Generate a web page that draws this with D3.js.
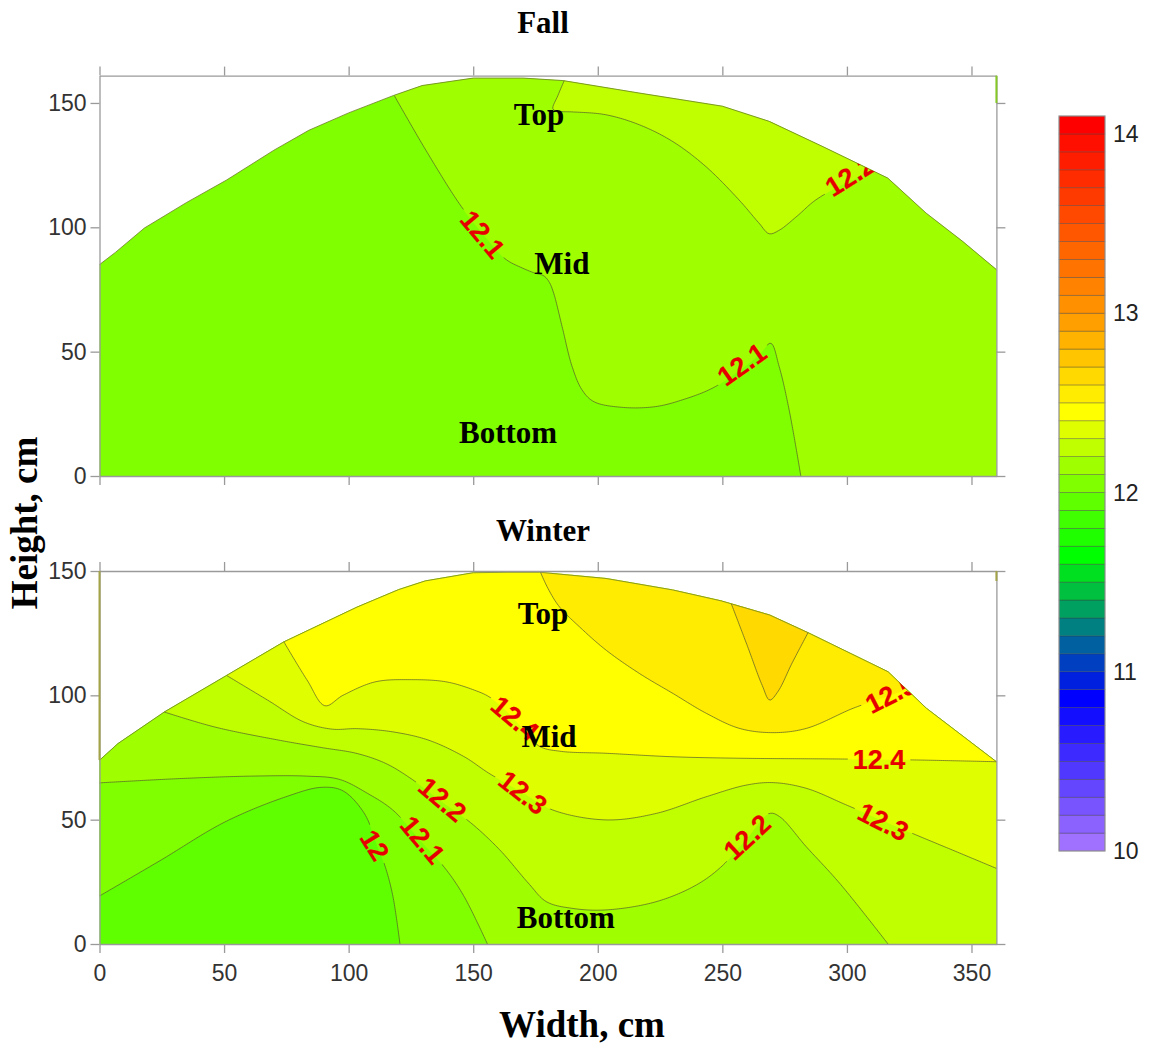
<!DOCTYPE html>
<html><head><meta charset="utf-8">
<script src="https://cdn.jsdelivr.net/npm/d3@7"></script>
<style>body{margin:0;background:#fff}svg{display:block}</style>
</head><body>
<svg id="chart" width="1149" height="1048"></svg>
<script>
// ---------------- DATA ----------------
const xTicks = [0, 50, 100, 150, 200, 250, 300, 350];
const yTicks = [0, 50, 100, 150];
const barTicks = [10, 11, 12, 13, 14];
const barLevels = [10.0,10.1,10.2,10.3,10.4,10.5,10.6,10.7,10.8,10.9,11.0,11.1,11.2,11.3,11.4,11.5,11.6,11.7,11.8,11.9,
  12.0,12.1,12.2,12.3,12.4,12.5,12.6,12.7,12.8,12.9,13.0,13.1,13.2,13.3,13.4,13.5,13.6,13.7,13.8,13.9,14.0];
const colorStops = [10.1, 10.9, 11.3, 11.7, 12.5, 13.0, 14.1];
const colorHex = ["#a070ff", "#0000ff", "#008080", "#00ff00", "#ffff00", "#ffa000", "#ff0000"];

// Fall panel: domain top boundary (width, height)
const fallBoundary = [[0,85],[6.5,90],[18,99.7],[35,110],[51,119],[70,131],[84,139],[100,146],[118,153],[129.5,157],
  [150,160],[170,160],[186,159],[216.5,154],[250,148.7],[268.8,142.6],[290,132.6],[316.4,119.8],[331.8,105.7],[346.5,94.3],[360,83]];
const fallC121 = [[118.3,153],[131,131],[145.2,108.4],[155,96],[163,87.2],[170,83.5],[174.7,81.6],[178.3,80.5],[180.5,78],
  [182.3,73.5],[185.7,60],[189.7,44],[193.7,34.6],[198.4,29.9],[209.8,27.6],[223.2,27.9],[233.9,30.6],[246,35.3],[257,42.5],
  [265,49],[269.4,53.4],[272.8,44],[276.8,26.6],[281.5,0]];
const fallC122 = [[186.5,158.9],[184,153],[182,147.5],[185,146.6],[189.7,146.4],[203,145.3],[216.5,141.3],[229.9,134.6],
  [243.3,124.5],[256.7,111],[264.7,101.7],[268.8,97.4],[272.8,98.8],[280,104.5],[287.5,111],[300,118],[311,122.4]];
const fallBase = 12.0;
const fallLevels = [12.1, 12.2];
const fallLabels = [
  {t:"12.1", x:153.9, y:97.3, a:50},
  {t:"12.1", x:257.8, y:45.0, a:-35},
  {t:"12.2", x:301.2, y:120.8, a:-32}
];
const fallNames = [{t:"Top", x:176.4, y:145.2}, {t:"Mid", x:185.6, y:85.2}, {t:"Bottom", x:164, y:17.3}];

// Winter panel
const winterBoundary = [[0,73.9],[7.4,80.6],[26,93.3],[51,108],[74,121.5],[103.4,135.5],[120,142.5],[130.7,146],[150,149.3],
  [163.6,149.5],[176.6,149.5],[203.3,147],[230,142.4],[249.5,138],[269,132.3],[284.4,125.2],[316.5,109.5],[331.9,94.8],[360,73.3]];
const winterC120 = [[0,19.3],[24.6,33.7],[50.4,49.1],[74.8,59.2],[89.1,63],[97.7,61.6],[106.3,52.5],[111.3,40],[114.9,30.4],[117.8,19],[120.6,0]];
const winterC121 = [[0,64.8],[31.8,66.5],[60.5,67.5],[83.4,67.5],[96.3,66.2],[107.7,60.5],[117.8,53.8],[129.8,40.5],[139.3,29.7],[146.4,19],[155.7,0]];
const winterC122 = [[26,93.3],[46.1,87.3],[71.9,82],[89.1,79],[103.4,76.6],[114.9,72.6],[124.9,66.6],[137.7,57],[149.3,48.5],
  [160.7,37.8],[172.2,24.4],[179.4,17],[190,14.3],[203.3,13.7],[223.4,17],[239.5,23.7],[249.6,31.1],[259.8,42.4],[269,52.5],
  [273,51.2],[283.7,39.1],[297.1,24.4],[316.5,0]];
const winterC123 = [[51,108],[67.6,98],[82,89.3],[93.4,86.4],[103.4,86.6],[117.8,85.3],[132,82],[146.4,75.3],[156.4,68.6],
  [170,60.8],[181.9,53.9],[203.3,49.9],[223.4,52.5],[243.5,59.2],[259.6,63.9],[270.3,64.9],[283.7,62.6],[299.8,55.9],
  [314.6,49.5],[327.9,43.8],[344,37.1],[360,30.4]];
const winterC124 = [[74,121.5],[83.4,106],[90.5,95.8],[97.7,100],[110.6,105.4],[124.9,106.3],[139.3,105.4],[150.7,102],
  [156.4,99.4],[163,94],[170,86.5],[176.6,79.5],[185,77.5],[203.3,76.7],[230,75.3],[256.9,74.7],[297.1,74.4],[327.9,74],[360,73.3]];
const winterC125 = [[177,149.5],[180,143],[184.6,135.6],[192.6,127.6],[203.3,118.2],[216.7,108.8],[230.1,100.8],[243.5,92.8],
  [256.9,86.7],[270.3,85],[283.7,86.7],[302.5,94.8],[315.3,99.3],[324,102.3]];
const winterC126 = [[253.6,136.8],[260,120],[266,104],[269,98.1],[272.3,101.5],[278,113],[284.4,125.2]];
const winterBase = 11.9;
const winterLevels = [12.0, 12.1, 12.2, 12.3, 12.4, 12.5, 12.6];
const winterLabels = [
  {t:"12", x:110.6, y:39.8, a:58},
  {t:"12.1", x:129.8, y:42.0, a:50},
  {t:"12.2", x:137.7, y:58.2, a:40},
  {t:"12.3", x:170.0, y:61.0, a:38},
  {t:"12.4", x:166.8, y:90.9, a:40},
  {t:"12.2", x:259.8, y:43.1, a:-43},
  {t:"12.3", x:314.6, y:49.3, a:27},
  {t:"12.4", x:312.9, y:74.3, a:0},
  {t:"12.5", x:317.5, y:100.6, a:-27}
];
const winterNames = [{t:"Top", x:178, y:132.7}, {t:"Mid", x:180.4, y:83.2}, {t:"Bottom", x:187.2, y:10.5}];

// ---------------- DRAWING ----------------
const svg = d3.select("#chart");
const defs = svg.append("defs");
const color = d3.scaleLinear().domain(colorStops).range(colorHex).interpolate(d3.interpolateRgb).clamp(true);
const bandColor = lv => color(+(lv + 0.1).toFixed(2));

const x = d3.scaleLinear().domain([0, 360]).range([99.5, 996.4]);
const lineGen = d3.line();
const smoothGen = d3.line().curve(d3.curveCatmullRom.alpha(0.5));

function densify(px) {
  const tmp = svg.append("path").attr("d", smoothGen(px));
  const node = tmp.node(), L = node.getTotalLength();
  const n = Math.max(2, Math.ceil(L / 2));
  const out = [];
  for (let i = 0; i <= n; i++) { const p = node.getPointAtLength(L * i / n); out.push([p.x, p.y]); }
  tmp.remove();
  return out;
}

const FONT = "'Liberation Sans', Arial, sans-serif";
const SERIF = "'Liberation Serif', 'Times New Roman', serif";

function drawPanel(cfg) {
  const y = cfg.y;
  const P = d => [x(d[0]), y(d[1])];
  const g = svg.append("g");
  const bnd = cfg.boundary.map(P);
  const domainPoly = [P([0, 0])].concat(bnd, [P([360, 0])]);

  defs.append("clipPath").attr("id", "clip-" + cfg.id)
    .append("path").attr("d", lineGen(domainPoly) + "Z");

  g.append("path").attr("d", lineGen(domainPoly) + "Z").attr("fill", bandColor(cfg.base)).attr("stroke", "none");

  const dense = cfg.levels.map(lv => densify(cfg.contours[lv].map(P)));
  cfg.levels.forEach((lv, i) => {
    const c = cfg.contours[lv];
    const spec = cfg.regionSpec[i];
    const x0 = c[0][0];
    const slice = cfg.boundary.filter(p => p[0] >= x0 - 1e-6 && p[0] <= spec.bMax + 1e-6).slice().reverse().map(P);
    const poly = dense[i].concat(spec.corners.map(P), slice);
    g.append("path").attr("d", lineGen(poly) + "Z").attr("fill", bandColor(lv)).attr("stroke", bandColor(lv)).attr("stroke-width", 0.3);
  });

  const mask = defs.append("mask").attr("id", "mask-" + cfg.id).attr("maskUnits", "userSpaceOnUse")
    .attr("x", 0).attr("y", 0).attr("width", 1149).attr("height", 1048);
  mask.append("rect").attr("x", 0).attr("y", 0).attr("width", 1149).attr("height", 1048).attr("fill", "#fff");

  const lineG = g.append("g").attr("mask", "url(#mask-" + cfg.id + ")");
  cfg.levels.forEach((lv, i) => {
    lineG.append("path").attr("d", lineGen(dense[i])).attr("fill", "none")
      .attr("stroke", "#4d5530").attr("stroke-opacity", 0.75).attr("stroke-width", 0.9);
  });
  g.append("path").attr("d", lineGen(bnd)).attr("fill", "none")
    .attr("stroke", "#6f7f2a").attr("stroke-opacity", 0.8).attr("stroke-width", 1);

  const labG = g.append("g").attr("clip-path", "url(#clip-" + cfg.id + ")");
  cfg.labels.forEach(l => {
    const [px, py] = P([l.x, l.y]);
    const t = labG.append("text").attr("transform", `translate(${px},${py}) rotate(${l.a})`)
      .attr("text-anchor", "middle").attr("dy", "0.36em")
      .attr("font-family", FONT).attr("font-size", 27).attr("fill", "#e60000").attr("font-weight", "bold")
      .attr("stroke", "#e60000").attr("stroke-width", 0.2)
      .text(l.t);
    const w = t.node().getComputedTextLength() + 10;
    mask.append("rect").attr("x", -w / 2).attr("y", -11).attr("width", w).attr("height", 22)
      .attr("transform", `translate(${px},${py}) rotate(${l.a})`).attr("fill", "#000");
  });

  const styleAxis = sel => {
    sel.selectAll(".domain").attr("stroke", "#9a9a9a").attr("stroke-width", 1.3);
    sel.selectAll(".tick line").attr("stroke", "#9a9a9a").attr("stroke-width", 1.3);
    sel.selectAll(".tick text").attr("font-family", FONT).attr("font-size", 23).attr("fill", "#333");
  };
  const [y0, y1] = y.range();
  g.append("g").attr("transform", `translate(0,${y0})`)
    .call(d3.axisBottom(x).tickValues(xTicks).tickSize(9).tickSizeOuter(0).tickPadding(12)
      .tickFormat(cfg.xLabels ? d3.format("d") : () => ""))
    .call(styleAxis);
  g.append("g").attr("transform", `translate(0,${y1})`)
    .call(d3.axisTop(x).tickValues(xTicks).tickSize(9).tickSizeOuter(0).tickFormat(() => ""))
    .call(styleAxis);
  g.append("g").attr("transform", `translate(${x(0)},0)`)
    .call(d3.axisLeft(y).tickValues(yTicks).tickSize(9).tickSizeOuter(0).tickPadding(4).tickFormat(d3.format("d")))
    .call(styleAxis);
  g.append("g").attr("transform", `translate(${x(360)},0)`)
    .call(d3.axisRight(y).tickValues(yTicks).tickSize(9).tickSizeOuter(0).tickFormat(() => ""))
    .call(styleAxis);

  // data-boundary edge lines drawn over the frame
  cfg.edges.forEach(e => {
    g.append("line").attr("x1", x(e[0])).attr("x2", x(e[0])).attr("y1", y(e[1])).attr("y2", y(e[2]))
      .attr("stroke", e[3]).attr("stroke-width", 2);
  });

  cfg.names.forEach(n => {
    const [px, py] = P([n.x, n.y]);
    g.append("text").attr("x", px).attr("y", py).attr("dy", "0.33em").attr("text-anchor", "middle")
      .attr("font-family", SERIF).attr("font-weight", "bold").attr("font-size", 31).attr("fill", "#000").text(n.t);
  });

  g.append("text").attr("x", 543).attr("y", cfg.titleY).attr("text-anchor", "middle")
    .attr("font-family", SERIF).attr("font-weight", "bold").attr("font-size", 31).text(cfg.title);
}

drawPanel({
  id: "fall", title: "Fall", titleY: 33,
  y: d3.scaleLinear().domain([0, 161]).range([476, 75.6]),
  boundary: fallBoundary, base: fallBase, levels: fallLevels,
  contours: {12.1: fallC121, 12.2: fallC122},
  regionSpec: [{corners: [[360, 0]], bMax: 360}, {corners: [], bMax: 311}],
  labels: fallLabels, names: fallNames, xLabels: false,
  edges: [[360, 161, 150, "#86c926"]]
});

drawPanel({
  id: "winter", title: "Winter", titleY: 541,
  y: d3.scaleLinear().domain([0, 150]).range([944, 571]),
  boundary: winterBoundary, base: winterBase, levels: winterLevels,
  contours: {12: winterC120, 12.1: winterC121, 12.2: winterC122, 12.3: winterC123, 12.4: winterC124, 12.5: winterC125, 12.6: winterC126},
  regionSpec: [
    {corners: [[360, 0]], bMax: 360}, {corners: [[360, 0]], bMax: 360}, {corners: [[360, 0]], bMax: 360},
    {corners: [], bMax: 360}, {corners: [], bMax: 360}, {corners: [], bMax: 324}, {corners: [], bMax: 284.4}
  ],
  labels: winterLabels, names: winterNames, xLabels: true,
  edges: [[0, 150, 74, "#a3a34a"], [360, 150, 146, "#a3a34a"]]
});

svg.append("text").attr("x", 582).attr("y", 1037).attr("text-anchor", "middle")
  .attr("font-family", SERIF).attr("font-weight", "bold").attr("font-size", 37).text("Width, cm");
svg.append("text").attr("transform", "translate(37,523) rotate(-90)").attr("text-anchor", "middle")
  .attr("font-family", SERIF).attr("font-weight", "bold").attr("font-size", 37).text("Height, cm");

// colour bar
const yb = d3.scaleLinear().domain([10, 14.1]).range([851, 116]);
const bar = svg.append("g");
bar.selectAll("rect.band").data(barLevels).join("rect").attr("class", "band")
  .attr("x", 1059).attr("width", 46)
  .attr("y", d => yb(d + 0.1)).attr("height", d => yb(d) - yb(d + 0.1))
  .attr("fill", d => bandColor(d)).attr("stroke", "#3a3a3a").attr("stroke-opacity", 0.5).attr("stroke-width", 0.7);
bar.append("rect").attr("x", 1059).attr("y", yb(14.1)).attr("width", 46).attr("height", yb(10) - yb(14.1))
  .attr("fill", "none").attr("stroke", "#999").attr("stroke-width", 1);
bar.selectAll("text").data(barTicks).join("text")
  .attr("x", 1113).attr("y", d => yb(d)).attr("dy", "0.36em")
  .attr("font-family", FONT).attr("font-size", 23).attr("fill", "#222").text(d => d);
</script>
</body></html>
